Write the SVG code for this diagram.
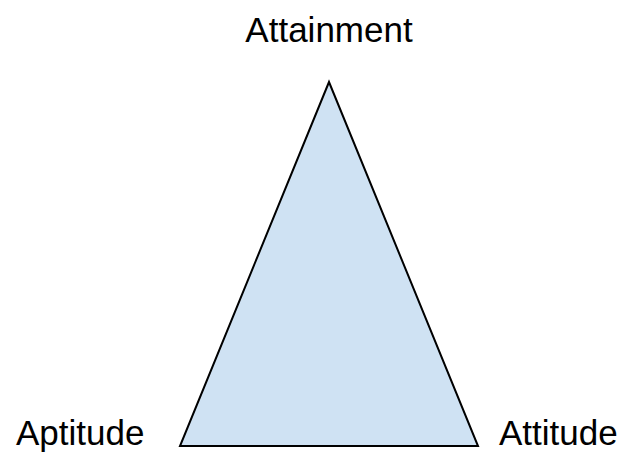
<svg xmlns="http://www.w3.org/2000/svg" width="623" height="453" viewBox="0 0 623 453">
<style>
text { font-family: "Liberation Sans", Arial, sans-serif; font-size: 35px; fill: #000; }
.tri { fill: #cfe2f3; stroke: #000; stroke-width: 2; stroke-linejoin: miter; }
</style>
<rect width="623" height="453" fill="#fff"/>
<g id="triangle">
<polygon class="tri" points="329,82 180,446 478,446"/>
</g>
<g id="attainment"><text x="329" y="42" text-anchor="middle">Attainment</text></g>
<g id="aptitude"><text x="16" y="445">Aptitude</text></g>
<g id="attitude"><text x="499" y="445">Attitude</text></g>
<g id="connectors"></g>
</svg>
